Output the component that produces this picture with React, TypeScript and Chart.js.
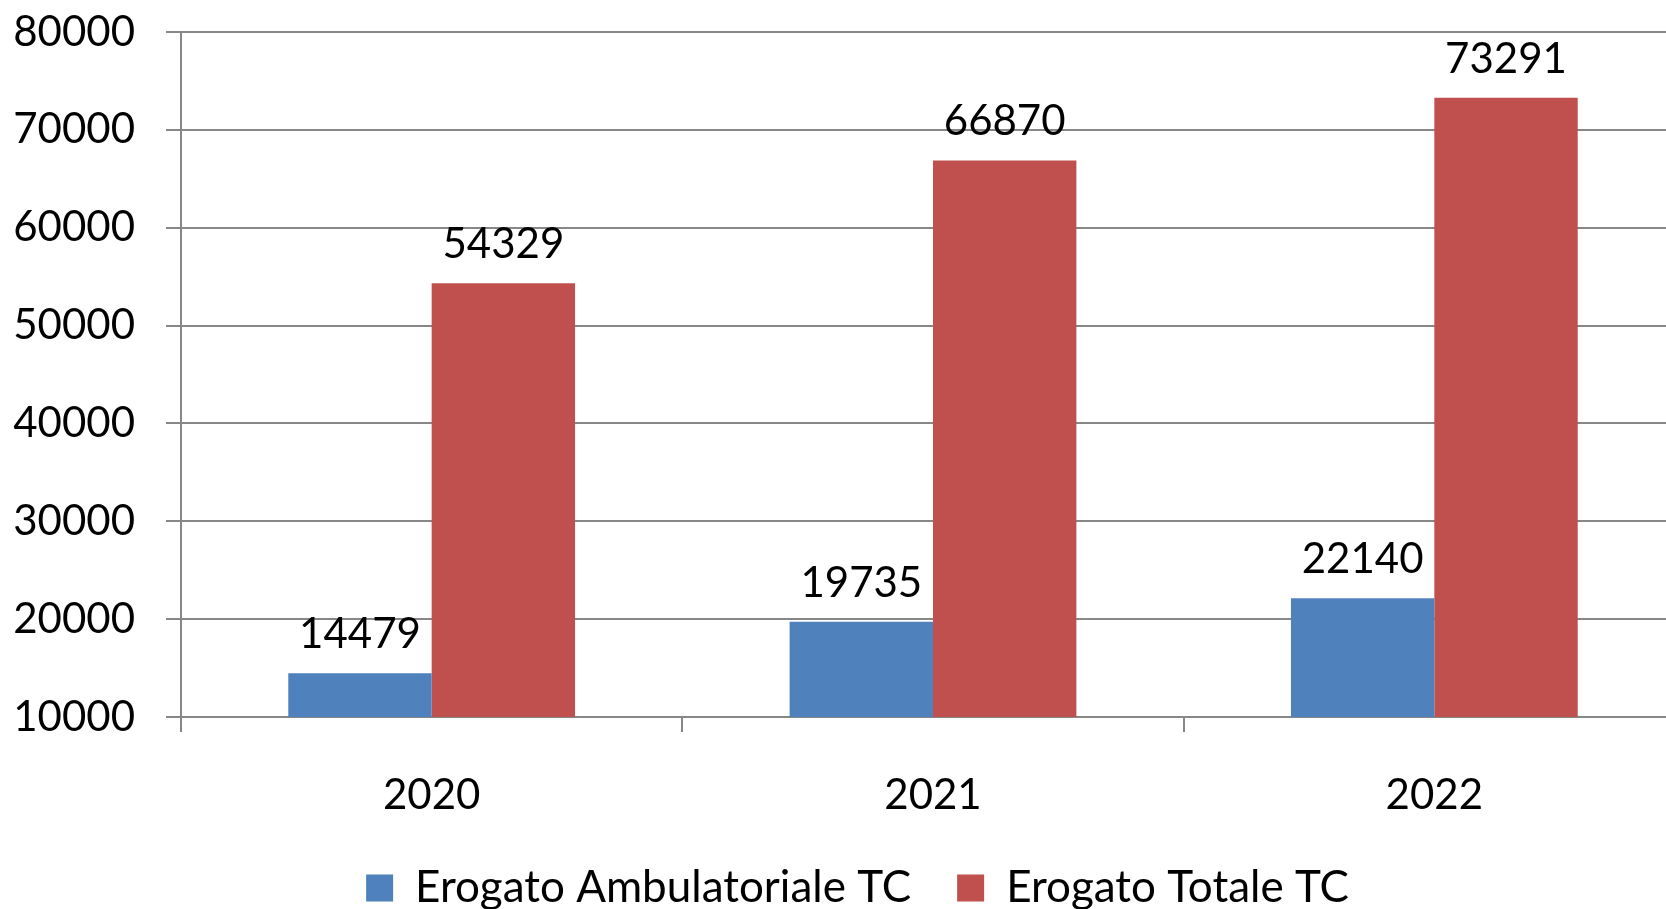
import React, { useEffect, useRef } from "react";
import { Chart, registerables } from "chart.js";

Chart.register(...registerables);

const categories = ["2020", "2021", "2022"];
const ambulatoriale = [14479, 19735, 22140];
const totale = [54329, 66870, 73291];
const seriesNames = ["Erogato Ambulatoriale TC", "Erogato Totale TC"];
const yMin = 10000;
const yMax = 80000;
const yStep = 10000;

const FONT = "Lato";
const FONT_SIZE = 42;
const LEGEND_FONT_SIZE = 44;
const GRID = "#878787";

const valueLabels = {
  id: "valueLabels",
  afterDatasetsDraw(chart: any) {
    const ctx = chart.ctx;
    ctx.save();
    ctx.font = `${FONT_SIZE}px ${FONT}`;
    ctx.fillStyle = "#000";
    ctx.textAlign = "center";
    ctx.textBaseline = "alphabetic";
    chart.data.datasets.forEach((ds: any, i: number) => {
      const meta = chart.getDatasetMeta(i);
      meta.data.forEach((bar: any, j: number) => {
        ctx.fillText(String(ds.data[j]), bar.x, bar.y - 25);
      });
    });
    ctx.restore();
  },
};

// shift the legend so it is centred like the reference
const legendShift = {
  id: "legendShift",
  beforeDraw(chart: any) {
    const lg = chart.legend;
    if (lg) {
      lg.left = 30;
    }
  },
};

export default function App() {
  const ref = useRef<HTMLCanvasElement | null>(null);
  useEffect(() => {
    if (!ref.current) return;
    Chart.defaults.font.family = FONT;
    const chart = new Chart(ref.current, {
      type: "bar",
      data: {
        labels: categories,
        datasets: [
          {
            label: seriesNames[0],
            data: ambulatoriale,
            backgroundColor: "#4F81BD",
            categoryPercentage: 0.572,
            barPercentage: 1,
          },
          {
            label: seriesNames[1],
            data: totale,
            backgroundColor: "#C0504D",
            categoryPercentage: 0.572,
            barPercentage: 1,
          },
        ],
      },
      options: {
        responsive: false,
        animation: false,
        layout: { padding: { top: 32, left: 0, right: 1, bottom: 0 } },
        plugins: {
          legend: {
            position: "bottom",
            labels: {
              boxWidth: 27,
              boxHeight: 27,
              padding: 46,
              color: "#000",
              font: { family: FONT, size: LEGEND_FONT_SIZE },
            },
          },
          tooltip: { enabled: false },
        },
        scales: {
          x: {
            grid: {
              drawOnChartArea: false,
              drawTicks: true,
              tickLength: 15,
              color: GRID,
              lineWidth: 2,
            },
            border: { color: GRID, width: 2 },
            ticks: {
              color: "#000",
              font: { family: FONT, size: FONT_SIZE },
              padding: 38,
            },
            afterFit(scale: any) {
              scale.height = 103;
            },
          },
          y: {
            min: yMin,
            max: yMax,
            ticks: {
              stepSize: yStep,
              color: "#000",
              font: { family: FONT, size: FONT_SIZE },
              padding: 31,
              callback: (v: any) => String(v),
            },
            grid: { color: GRID, lineWidth: 2, tickLength: 15 },
            border: { color: GRID, width: 2 },
            afterFit(scale: any) {
              scale.width = 181;
              scale.paddingTop = 0;
              scale.paddingBottom = 0;
            },
          },
        },
      },
      plugins: [valueLabels, legendShift],
    });
    return () => chart.destroy();
  }, []);
  return (
    <div
      style={{
        position: "fixed",
        left: 0,
        top: 0,
        width: 1666,
        height: 909,
        overflow: "hidden",
        background: "#fff",
      }}
    >
      <canvas ref={ref} width={1686} height={920} style={{ width: 1686, height: 920, display: "block" }} />
    </div>
  );
}
